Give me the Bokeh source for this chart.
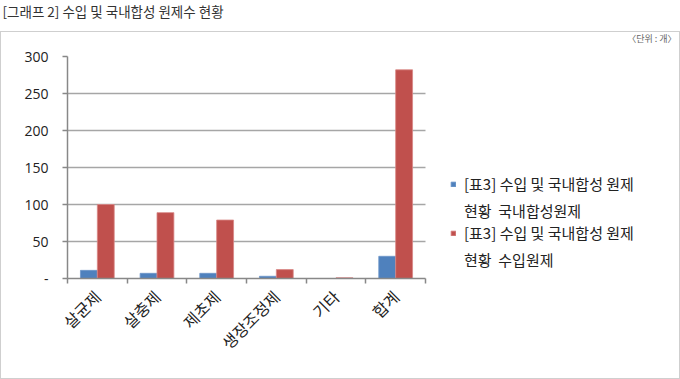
from bokeh.plotting import figure
from bokeh.models import (Range1d, FixedTicker, Legend, LegendItem, ColumnDataSource, Title,
                          InlineStyleSheet, Grid)
from bokeh.transform import dodge
from bokeh.embed import file_html
from bokeh.resources import INLINE
import math

categories = ["살균제", "살충제", "제초제", "생장조정제", "기타", "합계"]
domestic = [11, 7, 7, 3, 0, 30]      # 국내합성원제
imported = [100, 89, 79, 12, 1, 282]  # 수입원제
y_ticks = [0, 50, 100, 150, 200, 250, 300]
series_lines = [("[표3] 수입 및 국내합성 원제", "현황  국내합성원제"),
                ("[표3] 수입 및 국내합성 원제", "현황  수입원제")]
title_text = "[그래프 2] 수입 및 국내합성 원제수 현황"
unit_text = "〈단위 : 개〉"

BLUE = "#4f81bd"
RED = "#c0504d"
KR = "Noto Sans CJK KR"
W, H = 680, 379
FRAME_L, FRAME_R, CAT_R = 67, 676, 425
n = len(categories)
x_end = n * (FRAME_R - FRAME_L) / (CAT_R - FRAME_L)

box_css = InlineStyleSheet(css="""
:host { position: relative; }
:host::after { content: ""; position: absolute; left: 0px; top: 31px; width: 678px; height: 346px;
  border: 1px solid #cfcfcf; pointer-events: none; }
""")

p = figure(width=W, height=H, output_backend="svg", toolbar_location=None,
           x_range=Range1d(0, x_end), y_range=Range1d(0, 300),
           min_border_left=FRAME_L, min_border_right=W - FRAME_R, min_border_top=55, min_border_bottom=101,
           title_location=None)
p.outline_line_color = None
p.stylesheets = [box_css]

centers = [i + 0.5 for i in range(n)]
bw = 0.283
src = ColumnDataSource(dict(x=centers, dom=domestic, imp=imported))
r1 = p.vbar(x=dodge("x", -bw / 2), top="dom", width=bw, source=src,
            fill_color=BLUE, line_color="#6f97c9", line_width=0.8)
r2 = p.vbar(x=dodge("x", bw / 2), top="imp", width=bw, source=src,
            fill_color=RED, line_color="#d88785", line_width=0.8)
ghost = p.vbar(x=[], top=[], width=0.1, fill_alpha=0, line_alpha=0)

xa = p.xaxis[0]
xa.bounds = (0, n)
xa.ticker = FixedTicker(ticks=centers, minor_ticks=list(range(n + 1)))
xa.major_label_overrides = {c: nm for c, nm in zip(centers, categories)}
xa.major_tick_out = 0
xa.major_tick_in = 0
xa.minor_tick_out = 5
xa.minor_tick_in = 0
xa.minor_tick_line_color = "#888888"
xa.minor_tick_line_width = 1.5
xa.axis_line_color = "#888888"
xa.axis_line_width = 1.5
xa.major_label_orientation = math.pi / 4
xa.major_label_text_font = KR
xa.major_label_text_font_size = "16px"
xa.major_label_text_color = "#222222"
xa.major_label_standoff = 10

ya = p.yaxis[0]
ya.ticker = FixedTicker(ticks=y_ticks)
ya.major_label_overrides = {0: "-"}
ya.major_tick_out = 5
ya.major_tick_in = 0
ya.minor_tick_line_color = None
ya.axis_line_color = "#888888"
ya.axis_line_width = 1.5
ya.major_tick_line_color = "#888888"
ya.major_tick_line_width = 1.5
ya.major_label_text_font = "Open Sans"
ya.major_label_text_font_size = "14px"
ya.major_label_text_color = "#222222"
ya.major_label_standoff = 14

p.xgrid.grid_line_color = None
yg = p.ygrid[0]
if "cross_bounds" in Grid.properties():
    yg.cross_bounds = (0, n)
    yg.grid_line_color = "#a6a6a6"
    yg.grid_line_width = 1.5
else:
    yg.grid_line_color = None
    p.segment(x0=0, x1=n, y0=y_ticks[1:], y1=y_ticks[1:], line_color="#a6a6a6", line_width=1.5,
              level="underlay")

# titles: first added sits closest to the plot
p.add_layout(Title(text=unit_text, align="right", offset=0, standoff=19, vertical_align="top",
                   text_font=KR, text_font_size="9px", text_font_style="normal",
                   text_color="#666666"), "above")
p.add_layout(Title(text=title_text, align="left", offset=-65, standoff=0, vertical_align="top",
                   text_font=KR, text_font_size="13.5px", text_font_style="normal",
                   text_color="#333333"), "above")

# legend: one legend per series, two text lines each
legend_common = dict(orientation="vertical", glyph_width=6, glyph_height=6, label_standoff=8,
                     spacing=4, label_height=23, padding=0, margin=0, border_line_color=None,
                     background_fill_alpha=0, label_text_font=KR, label_text_font_size="15px",
                     label_text_color="#222222")
for (l1, l2), rend, yoff in zip(series_lines, [r1, r2], [56, 7]):
    lg = Legend(items=[LegendItem(label=l1, renderers=[rend]),
                       LegendItem(label=l2, renderers=[ghost])],
                location=(383, yoff), **legend_common)
    p.add_layout(lg, "center")

open("out.html", "w").write(file_html(p, INLINE))
